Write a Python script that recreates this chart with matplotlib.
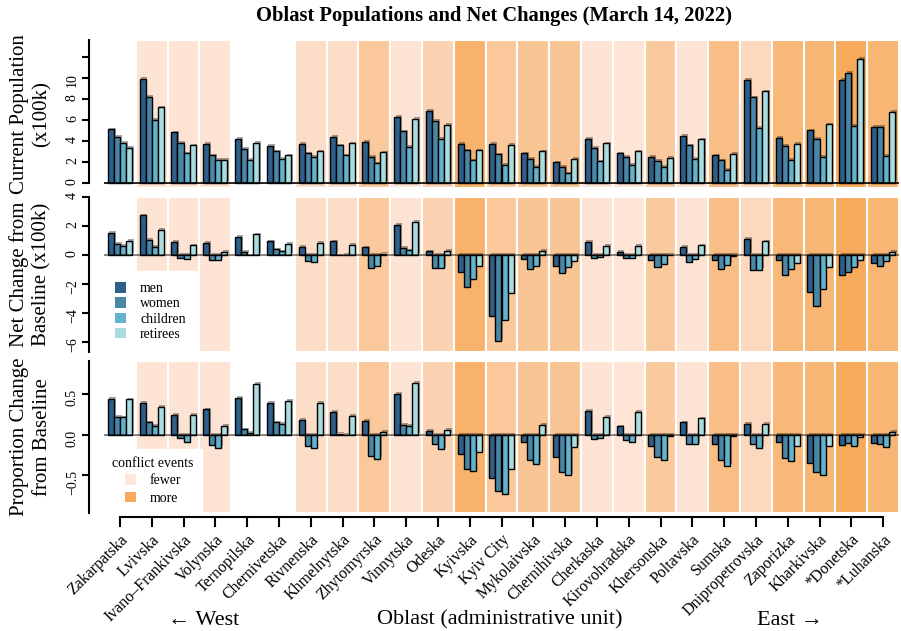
import numpy as np
import matplotlib
matplotlib.use("Agg")
import matplotlib.pyplot as plt
import matplotlib.patheffects as pe
from matplotlib.colors import LinearSegmentedColormap
from matplotlib.patches import Patch

plt.rcParams['font.family'] = ['Liberation Serif', 'DejaVu Serif']

oblasts = ["Zakarpatska", "Lvivska", "Ivano–Frankivska", "Volynska", "Ternopilska",
           "Chernivetska", "Rivnenska", "Khmelnytska", "Zhytomyrska", "Vinnytska",
           "Odeska", "Kyivska", "Kyiv City", "Mykolaivska", "Chernihivska",
           "Cherkaska", "Kirovohradska", "Khersonska", "Poltavska", "Sumska",
           "Dnipropetrovska", "Zaporizka", "Kharkivska", "*Donetska", "*Luhanska"]
groups = ["men", "women", "children", "retirees"]

# current population (x100k)
men_pop = [5.1, 9.9, 4.8, 3.7, 4.2, 3.5, 3.7, 4.4, 3.9, 6.3, 6.85, 3.7, 3.7, 2.8, 1.95,
           4.2, 2.8, 2.45, 4.5, 2.6, 9.8, 4.25, 5.0, 9.8, 5.3]
women_pop = [4.4, 8.2, 3.8, 2.6, 3.2, 3.0, 2.8, 3.55, 2.5, 4.9, 5.9, 3.1, 2.7, 2.25, 1.5,
             3.3, 2.5, 2.1, 3.55, 2.15, 8.15, 3.5, 4.2, 10.5, 5.3]
children_pop = [3.8, 6.0, 2.8, 2.2, 2.2, 2.3, 2.5, 2.6, 1.85, 3.45, 4.2, 2.15, 1.7, 1.5, 0.9,
                2.05, 1.7, 1.5, 2.25, 1.2, 5.25, 2.2, 2.5, 5.45, 2.55]
retirees_pop = [3.3, 7.2, 3.55, 2.2, 3.8, 2.6, 3.0, 3.75, 2.9, 6.1, 5.5, 3.1, 3.6, 3.0, 2.3,
                3.75, 3.0, 2.4, 4.15, 2.75, 8.7, 3.7, 5.55, 11.8, 6.75]

# net change from baseline (x100k)
men_net = [1.53, 2.73, 0.91, 0.85, 1.27, 0.95, 0.57, 0.93, 0.52, 2.07, 0.25, -1.16, -4.2,
           -0.29, -0.73, 0.91, 0.23, -0.36, 0.57, -0.34, 1.12, -0.38, -2.57, -1.39, -0.59]
women_net = [0.78, 1.05, -0.2, -0.36, 0.2, 0.39, -0.43, 0.02, -0.89, 0.48, -0.88, -2.22, -5.97,
             -1.0, -1.27, -0.2, -0.18, -0.82, -0.48, -0.98, -1.04, -1.39, -3.5, -1.2, -0.77]
children_net = [0.62, 0.57, -0.3, -0.36, 0.03, 0.25, -0.52, -0.03, -0.77, 0.32, -0.93, -1.66,
                -4.52, -0.79, -0.86, -0.11, -0.18, -0.64, -0.29, -0.66, -1.02, -1.0, -2.34,
                -0.86, -0.43]
retirees_net = [0.96, 1.75, 0.66, 0.23, 1.43, 0.75, 0.82, 0.68, 0.09, 2.3, 0.27, -0.79, -2.63,
                0.3, -0.41, 0.64, 0.64, -0.03, 0.66, -0.05, 0.95, -0.59, -0.86, -0.32, 0.23]

# proportion change from baseline
men_prop = [0.44, 0.39, 0.24, 0.31, 0.45, 0.39, 0.18, 0.28, 0.17, 0.5, 0.045, -0.24, -0.53,
            -0.09, -0.28, 0.29, 0.1, -0.14, 0.15, -0.12, 0.13, -0.086, -0.35, -0.13, -0.1]
women_prop = [0.22, 0.15, -0.045, -0.13, 0.065, 0.15, -0.135, 0.005, -0.26, 0.12, -0.12, -0.42,
              -0.69, -0.31, -0.46, -0.06, -0.065, -0.28, -0.12, -0.31, -0.115, -0.29, -0.46,
              -0.1, -0.12]
children_prop = [0.21, 0.11, -0.094, -0.16, 0.02, 0.13, -0.17, -0.01, -0.3, 0.11, -0.18, -0.45,
                 -0.73, -0.36, -0.5, -0.045, -0.086, -0.31, -0.12, -0.38, -0.16, -0.32, -0.49,
                 -0.135, -0.15]
retirees_prop = [0.43, 0.34, 0.24, 0.11, 0.62, 0.41, 0.39, 0.23, 0.03, 0.63, 0.06, -0.21, -0.42,
                 0.12, -0.15, 0.22, 0.28, -0.02, 0.2, -0.02, 0.13, -0.14, -0.14, -0.03, 0.03]

# relative number of conflict events (0 = none)
conflict = [0, 0.05, 0.05, 0.05, 0, 0, 0.15, 0.15, 0.5, 0.05, 0.32, 0.87, 0.5, 0.55, 0.55,
            0.05, 0.04, 0.47, 0.05, 0.67, 0.22, 0.77, 0.8, 1.0, 0.8]

bar_colors = ["#2d5f8a", "#4a87a7", "#62b3cd", "#a9dbdf"]
cmap = LinearSegmentedColormap.from_list("conf", ["#fde6da", "#f7aa5b"])

fig = plt.figure(figsize=(9.01, 6.31), dpi=100)
left, width = 104 / 901, 795 / 901
ax1 = fig.add_axes([left, 1 - 188 / 631, width, 148 / 631])
ax2 = fig.add_axes([left, 1 - 352 / 631, width, 155 / 631])
ax3 = fig.add_axes([left, 1 - 513 / 631, width, 152 / 631])

x = np.arange(len(oblasts))
w = 0.19
shadow = [pe.SimplePatchShadow(offset=(1.2, 1.2), shadow_rgbFace="black", alpha=0.35), pe.Normal()]

panels = [
    (ax1, [men_pop, women_pop, children_pop, retirees_pop], (-0.5, 13.6)),
    (ax2, [men_net, women_net, children_net, retirees_net], (-6.7, 4.0)),
    (ax3, [men_prop, women_prop, children_prop, retirees_prop], (-0.96, 0.9)),
]

for ax, series, ylim in panels:
    for i, c in enumerate(conflict):
        if c > 0:
            ax.axvspan(i - 0.5, i + 0.5, facecolor=cmap(c), edgecolor="white", lw=1.5, zorder=0)
    for k, vals in enumerate(series):
        ax.bar(x + (k - 1.5) * w, vals, w, color=bar_colors[k], edgecolor="black",
               lw=1, zorder=3, path_effects=shadow)
    ax.set_xlim(-0.5, len(oblasts) - 0.5)
    ax.set_ylim(*ylim)
    for s in ["top", "right"]:
        ax.spines[s].set_visible(False)
    ax.spines["left"].set_position(("outward", 11))
    ax.spines["left"].set_linewidth(1.5)
    ax.tick_params(axis="y", direction="out", length=5, width=1.5, labelsize=10,
                   labelrotation=90, pad=2)
    ax.yaxis.set_label_coords(-0.066, 0.5)

# top panel
ax1.axhline(0, color="black", lw=1.2, zorder=4)
ax1.spines["bottom"].set_visible(False)
ax1.set_xticks([])
ax1.set_yticks(np.arange(0, 13, 2))
ax1.set_yticklabels(["0", "2", "4", "6", "8", "10", ""])
ax1.spines["left"].set_bounds(0, 13.6)
ax1.set_ylabel("Current Population\n(x100k)", fontsize=15, linespacing=1.25)

# middle panel
ax2.axhline(0, color="black", lw=1.2, alpha=0.55, zorder=4)
ax2.spines["bottom"].set_visible(False)
ax2.set_xticks([])
ax2.set_yticks([-6, -4, -2, 0, 2, 4])
ax2.set_ylabel("Net Change from\nBaseline (x100k)", fontsize=15, linespacing=1.25)
group_handles = [Patch(facecolor=c, edgecolor="none", label=g) for g, c in zip(groups, bar_colors)]
leg = ax2.legend(handles=group_handles, loc="lower left", bbox_to_anchor=(0, 0),
                 borderaxespad=0, fontsize=10, handlelength=0.8, handleheight=0.8,
                 labelspacing=0.15, borderpad=0.8, handletextpad=1.0, fancybox=False,
                 framealpha=1, edgecolor="white")
leg.set_zorder(5)

# bottom panel
ax3.axhline(0, color="black", lw=1.2, alpha=0.55, zorder=4)
ax3.set_yticks([-0.5, 0.0, 0.5])
ax3.spines["bottom"].set_position(("outward", 3))
ax3.spines["bottom"].set_linewidth(1.5)
ax3.spines["bottom"].set_bounds(0, len(oblasts) - 1)
ax3.set_xticks(x)
ax3.set_xticklabels(oblasts, rotation=45, ha="right", rotation_mode="anchor", fontsize=11.5)
ax3.tick_params(axis="x", direction="out", length=7, width=1.5)
ax3.set_ylabel("Proportion Change\nfrom Baseline", fontsize=15, linespacing=1.25)
conf_handles = [Patch(facecolor=cmap(0.0), edgecolor="none", label="fewer"),
                Patch(facecolor=cmap(1.0), edgecolor="none", label="more")]
leg3 = ax3.legend(handles=conf_handles, title="conflict events", loc="lower left",
                  bbox_to_anchor=(0, 0), borderaxespad=0, fontsize=10, title_fontsize=10,
                  handlelength=0.8, handleheight=0.8, labelspacing=0.3, borderpad=0.6,
                  handletextpad=1.0, fancybox=False, framealpha=1, edgecolor="white")
leg3.set_zorder(5)

fig.text(0.548, 0.975, "Oblast Populations and Net Changes (March 14, 2022)",
         ha="center", va="center", fontsize=14.8, fontweight="bold")
fig.text(0.226, 0.017, "← West", ha="center", va="center", fontsize=16)
fig.text(0.555, 0.017, "Oblast (administrative unit)", ha="center", va="center", fontsize=16)
fig.text(0.877, 0.017, "East →", ha="center", va="center", fontsize=16)

fig.savefig("out.png", dpi=100)
